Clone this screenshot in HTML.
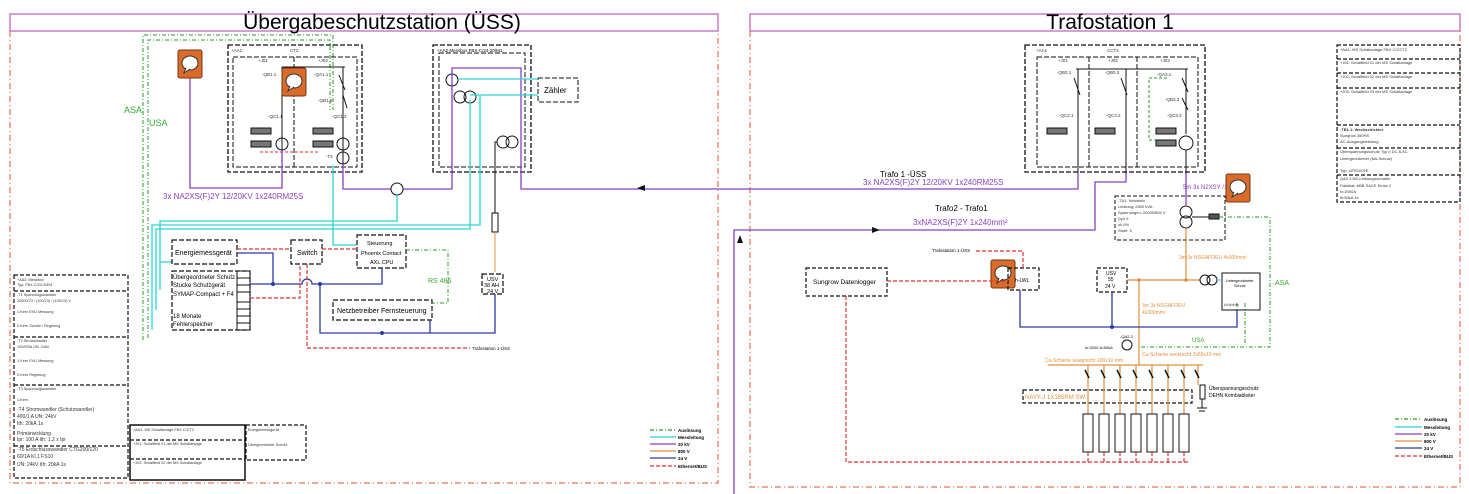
<!DOCTYPE html>
<html><head><meta charset="utf-8"><style>
html,body{margin:0;padding:0;background:#fff}
svg{display:block;font-family:"Liberation Sans",sans-serif}
</style></head><body>
<svg width="1469" height="494" viewBox="0 0 1469 494" xmlns="http://www.w3.org/2000/svg">
<defs>
<g id="ic"><rect x="0" y="0" width="24" height="28" rx="2" fill="#d96b2b" stroke="#7a3510"/><ellipse cx="12" cy="13" rx="8" ry="7" fill="#fff" stroke="#333"/><path d="M8 18 L6 23 L12 19" fill="#fff" stroke="#333"/></g>
</defs>
<g fill="none" stroke="#c03" stroke-width="1">
<rect x="10" y="14" width="708" height="17" stroke="#b03ab0"/>
<rect x="750" y="14" width="710" height="17" stroke="#b03ab0"/>
</g>
<g fill="none" stroke="#d9542a" stroke-dasharray="6,3,1,3" stroke-width="1">
<path d="M10 31 V483 H718 V31"/>
<path d="M750 31 V487 H1460 V31"/>
</g>
<text x="382" y="29" font-size="21" text-anchor="middle">Übergabeschutzstation (ÜSS)</text>
<text x="1110" y="29" font-size="21" text-anchor="middle">Trafostation 1</text>

<g fill="none" stroke="#2a9a2a" stroke-dasharray="4,2,1,2">
<path d="M143 340 V35 H333 V110"/>
<path d="M148 338 V40 H330 V110"/>
</g>
<text x="124" y="113" font-size="9" fill="#3a3">ASA</text>
<text x="149" y="126" font-size="9" fill="#3a3">USA</text>

<g fill="none" stroke="#111" stroke-dasharray="5,2">
<rect x="228" y="45" width="134" height="127" stroke-width="1.3"/>
<rect x="233" y="57" width="124" height="110"/>
<path d="M294 57 V167"/>
</g>
<g font-size="4.5" fill="#333"><text x="231" y="52">+AA1</text><text x="290" y="52">CT2</text><text x="258" y="62">+J01</text><text x="318" y="62">+J02</text>
<text x="262" y="76">-QB1.1</text><text x="314" y="76">-QA1.1</text><text x="318" y="102">-QB1.2</text><text x="268" y="118">-QC1.1</text><text x="332" y="118">-QC1.2</text><text x="326" y="158">-T4</text></g>
<g stroke="#111" fill="none"><path d="M282 67 H345 M282 67 V150 M343 67 V175"/>
<rect x="251" y="128" width="20" height="6" fill="#777"/><rect x="313" y="128" width="20" height="6" fill="#777"/>
<rect x="251" y="141" width="20" height="6" fill="#777"/><rect x="313" y="141" width="20" height="6" fill="#777"/>
<circle cx="282" cy="144" r="6"/><circle cx="343" cy="144" r="6"/><circle cx="343" cy="158" r="6"/>
<path d="M339 75 L345 90 M343 95 L347 108"/></g>
<path d="M260 152 H320" stroke="#d33" stroke-dasharray="3,2" fill="none"/>

<g fill="none" stroke="#111" stroke-dasharray="5,2">
<rect x="433" y="45" width="98" height="127" stroke-width="1.3"/><rect x="439" y="53" width="86" height="114"/>
<rect x="538" y="78" width="40" height="24"/></g>
<text x="437" y="52" font-size="4.5">+AA2   Messbox FBX-C/24-20/M1</text>
<text x="544" y="93" font-size="8">Zähler</text>
<g fill="none" stroke="#111"><circle cx="452" cy="80" r="6"/><circle cx="460" cy="97" r="6"/><circle cx="470" cy="97" r="6"/><circle cx="503" cy="142" r="6"/><circle cx="512" cy="142" r="6"/>
<path d="M497 142 H495 V213"/><rect x="492" y="213" width="6" height="19"/></g>
<path d="M495 232 V272" stroke="#e09040" fill="none"/>

<g fill="none" stroke="#8a3fc0" stroke-width="1.3">
<path d="M190 78 V188 H282 V150"/>
<path d="M343 164 V189 H452 V68 H521 V189 H1078 V172"/>
<path d="M734 494 V230 H1095 V182 H1126 V172"/>
<path d="M1186 172 V205"/>
</g>
<path d="M637 188 l8 -3 v6z M740 235 l-3 8 h6z" fill="#111"/>
<path d="M880 230 l-8 -3 v6z" fill="#111"/>
<text x="163" y="199" font-size="8" fill="#8a3fc0">3x NA2XS(F)2Y 12/20KV 1x240RM25S</text>
<text x="880" y="177" font-size="8">Trafo 1 -ÜSS</text>
<text x="863" y="185" font-size="8" fill="#8a3fc0">3x NA2XS(F)2Y 12/20KV 1x240RM25S</text>
<text x="935" y="211" font-size="8">Trafo2 - Trafo1</text>
<text x="913" y="225" font-size="8" fill="#8a3fc0">3xNA2XS(F)2Y 1x240mm²</text>
<text x="1183" y="189" font-size="6" fill="#8a3fc0">5m 3x N2XSY          /16</text>
<circle cx="397" cy="189" r="6" fill="#fff" stroke="#111"/>

<use href="#ic" x="178" y="50"/><use href="#ic" x="282" y="68"/><use href="#ic" x="1226" y="174"/><use href="#ic" x="991" y="260"/>

<g fill="none" stroke="#2dd4d4" stroke-width="1.3">
<path d="M458 79 H538 M470 95 H538"/>
<path d="M152 330 V225 H480 V95"/>
<path d="M156 310 V229 H470 V100"/>
<path d="M160 290 V221 H397 V195"/>
<path d="M333 165 V245 H357"/>
<path d="M160 262 H172"/>
</g>

<g fill="none" stroke="#111" stroke-dasharray="5,2" stroke-width="1.2">
<rect x="172" y="240" width="65" height="24"/><rect x="291" y="240" width="31" height="24"/>
<rect x="357" y="235" width="49" height="33"/><rect x="333" y="300" width="99" height="20"/>
<rect x="482" y="274" width="21" height="20"/><rect x="172" y="271" width="78" height="59"/>
</g>
<g fill="none" stroke="#111"><rect x="237" y="271" width="13" height="59"/><path d="M237 278 H250 M237 285 H250 M237 292 H250 M237 302 H250 M237 309 H250 M237 316 H250 M237 323 H250"/></g>
<g font-size="7"><text x="175" y="255">Energiemessgerät</text><text x="297" y="255">Switch</text>
<text x="367" y="245" font-size="5.5">Steuerung</text><text x="361" y="255" font-size="5.5">Phoenix Contact</text><text x="370" y="264" font-size="5.5">AXL CPU</text>
<text x="337" y="313">Netzbetreiber Fernsteuerung</text>
<text x="487" y="281" font-size="5.5">USV</text><text x="484" y="287" font-size="5.5">38 AH</text><text x="487" y="293" font-size="5.5">24 V</text>
<text x="173" y="279" font-size="6">Übergeordneter Schutz</text><text x="173" y="287" font-size="6">Stucke Schutzgerät</text><text x="173" y="296" font-size="6">SYMAP-Compact + F4</text>
<text x="173" y="318" font-size="6">18 Monate</text><text x="173" y="326" font-size="6">Fehlerspeicher</text>
<text x="428" y="283" fill="#3a3">RS 485</text></g>
<g fill="none" stroke="#2a3aa8" stroke-width="1.3"><path d="M237 253 H273 V284 H250 M273 284 H302 a5 5 0 0 1 10 0 H320 V333 H495 V294 M320 284 H382 V268 M430 333 V320"/></g>
<g fill="none" stroke="#d33" stroke-dasharray="4,2" stroke-width="1.2"><path d="M237 249 H291 M322 249 H357 M250 298 H300 V264 M307 264 V348 H470"/></g>
<text x="472" y="350" font-size="4.5">Trafostation 1-ÜSS</text>
<path d="M406 250 H448 V303 H432" fill="none" stroke="#2a9a2a" stroke-dasharray="4,2,1,2"/>

<g fill="none" stroke="#111" stroke-dasharray="4,2" stroke-width="1.2">
<rect x="14" y="275" width="114" height="203"/><path d="M14 291 H128 M14 337 H128 M14 385 H128 M14 446 H128"/>
<rect x="130" y="425" width="115" height="55" stroke-dasharray="none" stroke-width="1.5"/><path d="M130 440 H245 M130 459 H245"/>
<rect x="246" y="425" width="60" height="35"/>
</g>
<g font-size="3.8" fill="#333">
<text x="17" y="281">+AA2: Messbox</text><text x="17" y="286">Typ: FBX-C/24-20M1</text><text x="17" y="296">-T1 Spannungswandler</text><text x="17" y="302">20000/√3 / (100/√3) / (100/√3) V</text><text x="17" y="313">1.Kern EVU Messung</text><text x="17" y="327">2.Kern Schutz / Regelung</text><text x="17" y="342">-T2 Stromwandler</text><text x="17" y="348">100/5/5A   UN: 24kV</text><text x="17" y="362">1.Kern EVU Messung</text><text x="17" y="376">2.Kern Regelung</text><text x="17" y="390">-T3 Spannungswandler</text><text x="17" y="401">1.Kern</text>
<text x="17" y="411" font-size="5">-T4 Stromwandler (Schutzwandler)</text><text x="17" y="418" font-size="5">400/1 A       UN: 24kV</text><text x="17" y="425" font-size="5">Ith: 20kA 1s</text><text x="17" y="435" font-size="5">Primärwicklung</text><text x="17" y="441" font-size="5">Ipr: 100 A     Ith: 1.2 x Ipr</text>
<text x="17" y="451" font-size="5">-T5 Erdschlusswandler CTG200/120</text><text x="17" y="458" font-size="5">60/1A Kl.1 FS10</text><text x="17" y="466" font-size="5">UN: 24kV  Ith: 20kA 1s</text>
<text x="133" y="431">+AA1: MS Schaltanlage FBX-C/CT2</text><text x="133" y="445">+J01: Schaltfeld 01 der MS Schaltanlage</text><text x="133" y="464">+J02: Schaltfeld 02 der MS Schaltanlage</text>
<text x="248" y="431">Energiemessgerät</text><text x="248" y="446">Übergeordneter Schutz</text></g>

<g stroke-width="1.3" fill="none">
<path d="M650 430 H676" stroke="#2a9a2a" stroke-dasharray="4,2,1,2"/><path d="M650 437 H676" stroke="#2dd4d4"/><path d="M650 444 H676" stroke="#8a3fc0"/><path d="M650 451 H676" stroke="#e09040"/><path d="M650 458 H676" stroke="#2a3aa8"/><path d="M650 466 H676" stroke="#d33" stroke-dasharray="4,2"/>
<path d="M1395 419 H1422" stroke="#2a9a2a" stroke-dasharray="4,2,1,2"/><path d="M1395 427 H1422" stroke="#2dd4d4"/><path d="M1395 434 H1422" stroke="#8a3fc0"/><path d="M1395 441 H1422" stroke="#e09040"/><path d="M1395 448 H1422" stroke="#2a3aa8"/><path d="M1395 456 H1422" stroke="#d33" stroke-dasharray="4,2"/>
</g>
<g font-size="4.5" font-weight="bold"><text x="678" y="432">Auslösung</text><text x="678" y="439">Messleitung</text><text x="678" y="446">20 kV</text><text x="678" y="453">800 V</text><text x="678" y="460">24 V</text><text x="678" y="468">Ethernet/BUS</text>
<text x="1424" y="421">Auslösung</text><text x="1424" y="429">Messleitung</text><text x="1424" y="436">20 kV</text><text x="1424" y="443">800 V</text><text x="1424" y="450">24 V</text><text x="1424" y="458">Ethernet/BUS</text></g>

<g fill="none" stroke="#111" stroke-dasharray="5,2">
<rect x="1025" y="45" width="180" height="127" stroke-width="1.3"/><rect x="1037" y="57" width="161" height="110"/><path d="M1089 57 V167 M1137 57 V167"/></g>
<g font-size="4.5" fill="#333"><text x="1036" y="52">+AA1</text><text x="1107" y="52">CCT2</text><text x="1058" y="62">+J01</text><text x="1108" y="62">+J02</text><text x="1160" y="62">+J03</text>
<text x="1057" y="74">-QB0.1</text><text x="1105" y="74">-QB0.2</text><text x="1157" y="76">-QA3.1</text><text x="1165" y="101">-QB3.3</text>
<text x="1059" y="117">-QC2.1</text><text x="1106" y="117">-QC3.2</text><text x="1167" y="117">-QC3.3</text></g>
<g stroke="#111" fill="none"><path d="M1076 69 H1188 M1078 69 V172 M1126 69 V172 M1186 69 V134 M1074 78 L1080 95 M1121 78 L1127 95 M1182 78 L1188 92 M1182 98 L1188 110"/>
<rect x="1047" y="128" width="20" height="6" fill="#777"/><rect x="1095" y="128" width="20" height="6" fill="#777"/><rect x="1156" y="128" width="20" height="6" fill="#777"/><rect x="1156" y="140" width="20" height="6" fill="#777"/>
<circle cx="1186" cy="143" r="7"/><path d="M1186 150 V172"/></g>
<path d="M1167 78 H1149 V140 H1156" fill="none" stroke="#2a9a2a" stroke-dasharray="3,2"/>

<g fill="none" stroke="#111" stroke-dasharray="4,2" stroke-width="1.2"><rect x="1337" y="45" width="123" height="157"/><path d="M1337 59 H1460 M1337 73 H1460 M1337 88 H1460 M1337 125 H1460 M1337 148 H1460 M1337 175 H1460"/></g>
<g font-size="4" fill="#333"><text x="1340" y="51">+AA1: MS Schaltanlage FBX-C/CCT2</text><text x="1340" y="64">+J01: Schaltfeld 01 der MS Schaltanlage</text><text x="1340" y="78">+J02: Schaltfeld 02 der MS Schaltanlage</text><text x="1340" y="93">+J03: Schaltfeld 03 der MS Schaltanlage</text>
<text x="1340" y="131" font-weight="bold">-TB1.1: Wechselrichter</text><text x="1340" y="137">Sungrow 350HX</text><text x="1340" y="143">AC-Ausgangsleistung</text><text x="1340" y="153">Überspannungsschutz Typ II DC &amp; AC</text><text x="1340" y="160">Untergeordneter (NA-Schutz)</text><text x="1340" y="172">Typ: UFR1001E</text><text x="1340" y="180">QA2.3 NS-Leistungsschalter</text><text x="1340" y="187">Fabrikat: ABB SACE Emax 2</text><text x="1340" y="193">In:2000A</text><text x="1340" y="199">Ik:50kA 1s</text></g>

<rect x="1115" y="196" width="110" height="44" fill="none" stroke="#111" stroke-dasharray="4,2"/>
<g font-size="4" fill="#333"><text x="1118" y="202">-TA1: Netztrafo</text><text x="1118" y="208">Leistung: 2500 kVA</text><text x="1118" y="214">Spannungen: 20000/800 V</text><text x="1118" y="220">Dyn 5</text><text x="1118" y="226">uk 6%</text><text x="1118" y="232">Stufe: 5</text></g>
<g fill="none" stroke="#111"><circle cx="1186" cy="212" r="6"/><circle cx="1186" cy="222" r="6"/><path d="M1192 217 H1209"/><rect x="1209" y="214" width="10" height="5" fill="#555"/></g>
<path d="M1219 217 H1270 V347 H1141" fill="none" stroke="#2a9a2a" stroke-dasharray="4,2,1,2"/>
<path d="M1245 303 V345 M1237 303 V327" fill="none" stroke="#2a9a2a" stroke-dasharray="4,2,1,2"/>
<text x="1275" y="285" font-size="7" fill="#3a3">ASA</text><text x="1192" y="342" font-size="6" fill="#3a3">USA</text>
<text x="1179" y="259" font-size="5" fill="#e09040">3m 3x NSGAFOEU 4x300mm²</text>
<text x="1142" y="307" font-size="5" fill="#e09040">3m 3x NSGAFOEU</text><text x="1142" y="314" font-size="5" fill="#e09040">4x300mm²</text>

<g fill="none" stroke="#111" stroke-dasharray="4,2" stroke-width="1.2">
<rect x="806" y="268" width="81" height="28"/><rect x="1008" y="268" width="31" height="22"/><rect x="1097" y="268" width="30" height="24"/>
<rect x="1023" y="390" width="169" height="13"/></g>
<rect x="1222" y="273" width="38" height="37" fill="none" stroke="#111"/>
<g font-size="6.5"><text x="813" y="284">Sungrow Datenlogger</text><text x="1015" y="282" font-size="5">h-LWL</text>
<text x="1106" y="275" font-size="5">USV</text><text x="1108" y="281" font-size="5">55</text><text x="1105" y="288" font-size="5">24 V</text></g>
<text x="1226" y="282" font-size="3.8">Untergeordneter</text><text x="1234" y="287" font-size="3.8">Schutz</text><text x="1224" y="306" font-size="3.5">U>U&lt;f>f&lt;</text>
<g fill="none" stroke="#e09040" stroke-width="1.2"><path d="M1186 228 V280 M1127 280 H1200 M1139 280 V365 M1048 365 H1203"/>
<path d="M1088 365 V414 M1104 365 V414 M1120 365 V414 M1136 365 V414 M1152 365 V414 M1168 365 V414 M1184 365 V414 M1198 365 V385"/></g>
<circle cx="1186" cy="280" r="1.8" fill="#e09040"/><circle cx="1139" cy="280" r="1.8" fill="#e09040"/>
<g fill="none" stroke="#111"><circle cx="1205" cy="280" r="5"/><circle cx="1212" cy="280" r="5"/><circle cx="1127" cy="345" r="5"/></g>
<path d="M1217 280 H1222" stroke="#2dd4d4" fill="none"/>
<g fill="none" stroke="#111" stroke-width="1.5"><path d="M1085 370 l4 8 M1101 370 l4 8 M1117 370 l4 8 M1133 370 l4 8 M1149 370 l4 8 M1165 370 l4 8 M1181 370 l4 8 M1195 370 l4 8"/></g>
<g fill="#fff" stroke="#111"><rect x="1083" y="414" width="10" height="38"/><rect x="1099" y="414" width="10" height="38"/><rect x="1115" y="414" width="10" height="38"/><rect x="1131" y="414" width="10" height="38"/><rect x="1147" y="414" width="10" height="38"/><rect x="1163" y="414" width="10" height="38"/><rect x="1179" y="414" width="10" height="38"/><rect x="1200" y="385" width="5" height="14"/><path d="M1202 399 V408 M1197 408 H1207 M1199 411 H1205"/></g>
<text x="1209" y="390" font-size="5">Überspannungsschutz</text><text x="1209" y="397" font-size="5">DEHN Kombiableiter</text>
<text x="1025" y="399" font-size="6" fill="#e09040">NAYY-J 1X185RM SW</text>
<text x="1045" y="362" font-size="5" fill="#e09040">Cu-Schiene waagrecht 100x10 mm</text>
<text x="1142" y="356" font-size="5" fill="#e09040">Cu-Schiene senkrecht 2x60x10 mm</text>
<text x="1085" y="349" font-size="4">In:3200 Ik:50kA</text><text x="1120" y="338" font-size="4">-QA2.3</text>
<g fill="none" stroke="#2a3aa8" stroke-width="1.3"><path d="M1020 290 V327 H1237 V310 M1112 292 V327"/></g>
<circle cx="1112" cy="327" r="2" fill="#2a3aa8"/><circle cx="273" cy="284" r="2" fill="#2a3aa8"/><circle cx="320" cy="284" r="2" fill="#2a3aa8"/><circle cx="382" cy="333" r="2" fill="#2a3aa8"/>
<g fill="none" stroke="#d33" stroke-dasharray="4,2" stroke-width="1.2"><path d="M887 281 H1008 M1023 268 V251 H975 M846 296 V462 H1189 M1088 452 V462 M1104 452 V462 M1120 452 V462 M1136 452 V462 M1152 452 V462 M1168 452 V462 M1184 452 V462"/></g>
<text x="932" y="252" font-size="4.5">Trafostation 1-ÜSS</text>
</svg>
</body></html>
